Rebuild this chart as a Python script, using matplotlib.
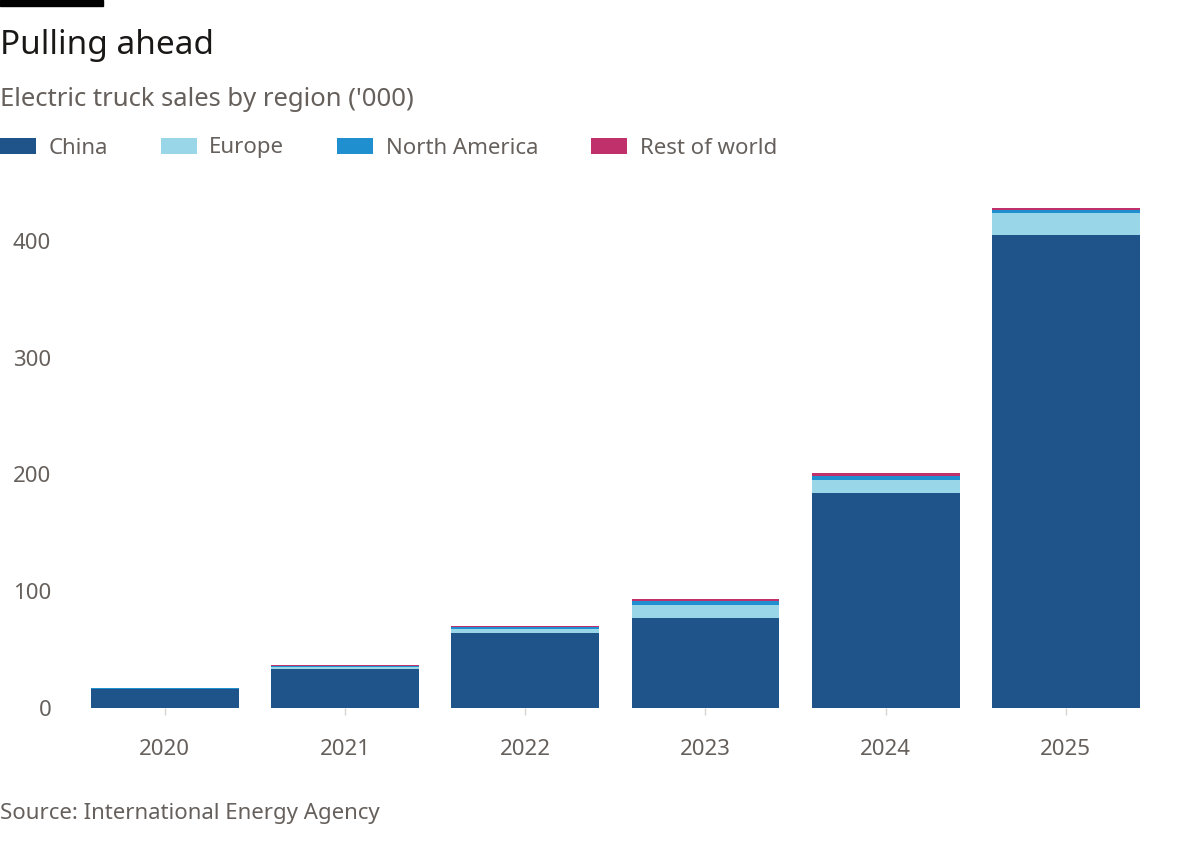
import numpy as np
import matplotlib.pyplot as plt
from matplotlib.patches import Rectangle

# Datos (miles de camiones eléctricos vendidos)
years = ['2020', '2021', '2022', '2023', '2024', '2025']
china = [16, 33, 64, 77, 184, 405]
europe = [0.5, 2, 3.5, 11, 11.5, 19]
north_america = [0.3, 1, 1.5, 3.5, 3.5, 2.5]
rest_of_world = [0.2, 1, 1.5, 2, 2.5, 2]

series_names = ['China', 'Europe', 'North America', 'Rest of world']
colors = ['#1f548a', '#98d6e8', '#1f8fd0', '#c0306a']

plt.rcParams['font.family'] = ['Noto Sans', 'DejaVu Sans']
grey = '#66605c'

fig = plt.figure(figsize=(12, 8.57), dpi=100)
ax = fig.add_axes([72 / 1200, 1 - 708 / 857, 1 - 72 / 1200 - 50 / 1200, 440 * 1.1675 / 857])

x = np.arange(len(years))
bottom = np.zeros(len(years))
handles = []
for name, vals, col in zip(series_names, [china, europe, north_america, rest_of_world], colors):
    b = ax.bar(x, vals, width=0.82, bottom=bottom, color=col, label=name, edgecolor='none')
    handles.append(b)
    bottom += np.array(vals)

ax.set_xlim(-0.515, 5.467)
ax.set_ylim(0, 440)
ax.set_xticks(x)
ax.set_xticklabels(years)
ax.set_yticks([0, 100, 200, 300, 400])
for s in ax.spines.values():
    s.set_visible(False)
ax.tick_params(axis='x', colors='#d8d4d0', length=5, width=1, pad=17, labelsize=16, labelcolor=grey)
ax.tick_params(axis='y', length=0, pad=15, labelsize=16, labelcolor=grey)

# Titulos
fig.patches.append(Rectangle((0, 1 - 6 / 857), 103 / 1200, 6 / 857, transform=fig.transFigure,
                             color='black'))
fig.text(0.0, 1 - 45 / 857, 'Pulling ahead', fontsize=24, color='#1a1817', va='center', ha='left')
fig.text(0.0, 1 - 99 / 857, "Electric truck sales by region ('000)", fontsize=18.5, color=grey,
         va='center', ha='left')
fig.text(0.0, 1 - 814 / 857, 'Source: International Energy Agency', fontsize=16, color=grey,
         va='center', ha='left')

leg = fig.legend(handles=handles, loc='center left', bbox_to_anchor=(0.0, 1 - 148 / 857),
                 ncol=4, frameon=False, fontsize=16, handlelength=1.62, handleheight=0.72,
                 handletextpad=0.55, columnspacing=2.4, borderaxespad=0, borderpad=0)
for t in leg.get_texts():
    t.set_color(grey)

plt.savefig('out.png', dpi=100)
